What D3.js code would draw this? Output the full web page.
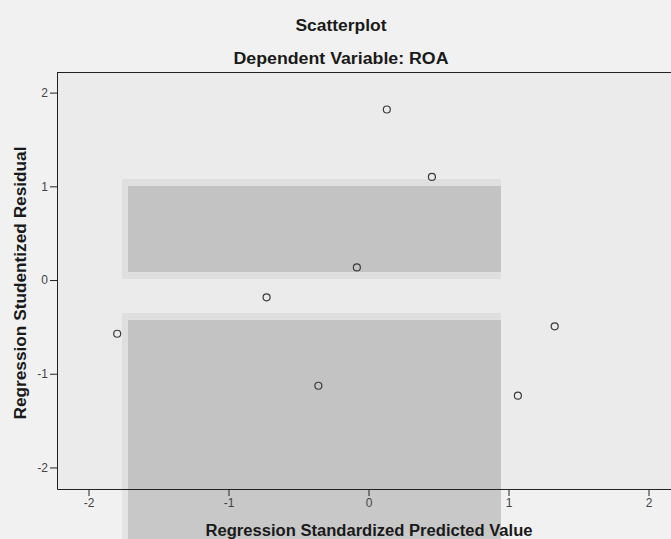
<!DOCTYPE html>
<html>
<head>
<meta charset="utf-8">
<script src="https://cdn.jsdelivr.net/npm/d3@7"></script>
<style>
  body { margin: 0; background: #f1f1f1; }
  svg { display: block; font-family: "Liberation Sans", Arial, sans-serif; }
  .tick text { fill: #444; font-size: 12px; }
  .tick line, .domain { stroke: #222; }
</style>
</head>
<body>
<div id="chart"></div>
<script>
// Scatterplot of studentized residual vs standardized predicted value

var predicted = [0.131, 0.453, -0.083, -0.728, -1.795, 1.330, -0.358, 1.067];
var residual  = [1.82, 1.10, 0.135, -0.185, -0.573, -0.494, -1.128, -1.234];
var xTicks = [-2, -1, 0, 1, 2];
var yTicks = [-2, -1, 0, 1, 2];

var width = 671, height = 539;
var margin = {top: 72, left: 57, bottom: 50};
var plotWidth = 623, plotHeight = height - margin.top - margin.bottom;

var svg = d3.select("#chart").append("svg")
  .attr("width", width)
  .attr("height", height);

// Plot background
svg.append("rect")
  .attr("x", margin.left).attr("y", margin.top)
  .attr("width", plotWidth).attr("height", plotHeight)
  .attr("fill", "#ebebeb");

// grey watermark blocks behind the chart: [top, bottom, bottom inset]
var bands = [[179, 279, 7], [313, 539, 0]];
bands.forEach(function(b) {
  svg.append("rect")
    .attr("x", 122).attr("y", b[0])
    .attr("width", 379).attr("height", b[1] - b[0])
    .attr("fill", "#000").attr("fill-opacity", 0.05);
  svg.append("rect")
    .attr("x", 128).attr("y", b[0] + 7)
    .attr("width", 373).attr("height", b[1] - b[0] - 7 - b[2])
    .attr("fill", "#000").attr("fill-opacity", 0.12);
});

var plot = svg.append("g")
  .attr("transform", "translate(" + margin.left + "," + margin.top + ")");

var xScale = d3.scaleLinear()
  .domain([-2.225, 2.225])
  .range([0, plotWidth]);
var yScale = d3.scaleLinear()
  .domain([-2.23, 2.22])
  .range([plotHeight, 0]);

var xAxis = d3.axisBottom(xScale)
  .tickValues(xTicks)
  .tickSize(7)
  .tickPadding(2)
  .tickFormat(function(d) { return String(d); });
var yAxis = d3.axisLeft(yScale)
  .tickValues(yTicks)
  .tickSize(7)
  .tickPadding(2)
  .tickFormat(function(d) { return String(d); });

plot.append("g")
  .attr("transform", "translate(0," + plotHeight + ")")
  .call(xAxis)
  .call(function(g) { g.select(".domain").attr("d", "M0.5,0.5H" + plotWidth); });
plot.append("g")
  .call(yAxis)
  .call(function(g) { g.select(".domain").attr("d", "M0.5,0.5V" + (plotHeight + 0.5)); });

// top frame line
plot.append("line")
  .attr("x1", 0).attr("x2", plotWidth)
  .attr("y1", 0.5).attr("y2", 0.5)
  .attr("stroke", "#222");

// Points
plot.append("g")
  .selectAll("circle")
  .data(predicted)
  .enter().append("circle")
  .attr("cx", function(d) { return xScale(d); })
  .attr("cy", function(d, i) { return yScale(residual[i]); })
  .attr("r", 3.5)
  .attr("fill", "none")
  .attr("stroke", "#3a3a3a")
  .attr("stroke-width", 1.2);

// Titles
function title(x, y, w, txt, rotate) {
  svg.append("text")
    .attr("transform", "translate(" + x + "," + y + ")" + (rotate ? " rotate(-90)" : ""))
    .attr("text-anchor", "middle")
    .attr("font-size", 16).attr("font-weight", "bold").attr("fill", "#1a1a1a")
    .attr("textLength", w).attr("lengthAdjust", "spacingAndGlyphs")
    .text(txt);
}
title(341, 31, 91, "Scatterplot");
title(341, 64, 215, "Dependent Variable: ROA");
title(369, 536, 327, "Regression Standardized Predicted Value");
title(26, 283, 273, "Regression Studentized Residual", true);
</script>
</body>
</html>
